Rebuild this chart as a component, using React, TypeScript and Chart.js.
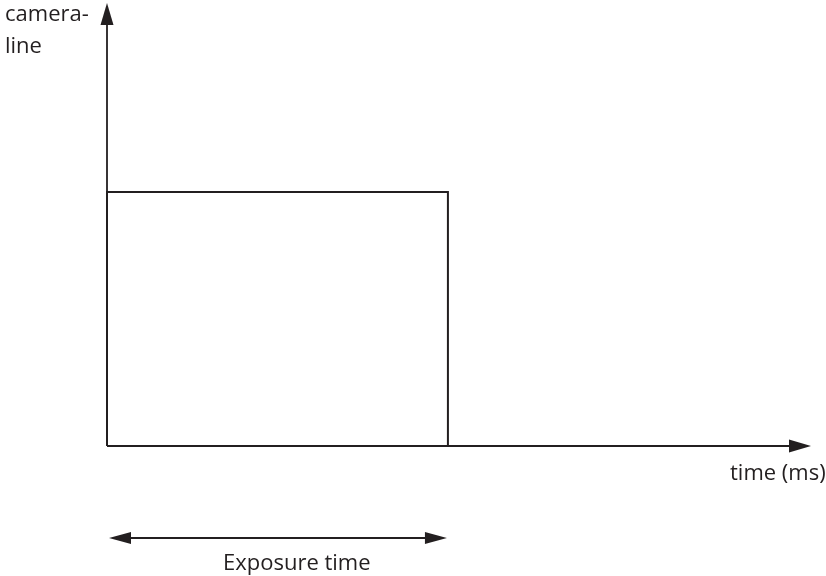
import React, { useEffect, useRef } from "react";
import { Chart, registerables } from "chart.js";

Chart.register(...registerables);

// Signal data (time in ms, camera-line level)
const pulseTime = [0, 0, 10, 10, 0];
const pulseLevel = [0, 1, 1, 0, 0];
const exposureStart = 0;
const exposureEnd = 10;
const timeMax = 20.65;
const levelMax = 1.744;

const yAxisLabel = ["camera-", "line"];
const xAxisLabel = "time (ms)";
const exposureLabel = "Exposure time";

const INK = "#231f20";
const FONT = '22px "Open Sans"';

function arrowHead(ctx: CanvasRenderingContext2D, tipX: number, tipY: number, dir: "up" | "right" | "left", len = 22, half = 6.5) {
  ctx.beginPath();
  if (dir === "up") {
    ctx.moveTo(tipX, tipY);
    ctx.lineTo(tipX - half, tipY + len);
    ctx.lineTo(tipX + half, tipY + len);
  } else if (dir === "right") {
    ctx.moveTo(tipX, tipY);
    ctx.lineTo(tipX - len, tipY - half);
    ctx.lineTo(tipX - len, tipY + half);
  } else {
    ctx.moveTo(tipX, tipY);
    ctx.lineTo(tipX + len, tipY - half);
    ctx.lineTo(tipX + len, tipY + half);
  }
  ctx.closePath();
  ctx.fill();
}

const diagramPlugin = {
  id: "diagram",
  beforeDatasetsDraw(chart: any) {
    const { ctx, chartArea, scales } = chart;
    const x = scales.x;
    const y = scales.y;
    const x0 = x.getPixelForValue(0);
    const y0 = y.getPixelForValue(0);
    ctx.save();
    ctx.strokeStyle = INK;
    ctx.fillStyle = INK;
    ctx.lineWidth = 1.8;
    // y axis
    ctx.beginPath();
    ctx.moveTo(x0, y0);
    ctx.lineTo(x0, chartArea.top + 20);
    ctx.stroke();
    arrowHead(ctx, x0, chartArea.top, "up");
    // x axis
    ctx.beginPath();
    ctx.moveTo(x0, y0);
    ctx.lineTo(chartArea.right - 20, y0);
    ctx.stroke();
    arrowHead(ctx, chartArea.right, y0, "right");
    ctx.restore();
  },
  afterDraw(chart: any) {
    const { ctx, scales } = chart;
    const x = scales.x;
    const y0 = scales.y.getPixelForValue(0);
    ctx.save();
    ctx.fillStyle = INK;
    ctx.strokeStyle = INK;
    ctx.font = FONT;
    ctx.textBaseline = "alphabetic";
    ctx.textAlign = "left";
    ctx.fillText(yAxisLabel[0], 5, 21);
    ctx.fillText(yAxisLabel[1], 5, 53);
    ctx.fillText(xAxisLabel, 730, y0 + 34);
    // exposure double arrow
    const ay = y0 + 92;
    const ax1 = x.getPixelForValue(exposureStart) + 2;
    const ax2 = x.getPixelForValue(exposureEnd) - 1;
    ctx.lineWidth = 1.8;
    ctx.beginPath();
    ctx.moveTo(ax1 + 18, ay);
    ctx.lineTo(ax2 - 18, ay);
    ctx.stroke();
    arrowHead(ctx, ax1, ay, "left", 22, 6);
    arrowHead(ctx, ax2, ay, "right", 22, 6);
    ctx.fillText(exposureLabel, 223, ay + 32);
    ctx.restore();
  },
};

export default function App() {
  const ref = useRef<HTMLCanvasElement>(null);
  useEffect(() => {
    if (!ref.current) return;
    const chart = new Chart(ref.current, {
      type: "line",
      data: {
        datasets: [
          {
            data: pulseTime.map((t, i) => ({ x: t, y: pulseLevel[i] })),
            borderColor: INK,
            borderWidth: 2,
            pointRadius: 0,
            fill: false,
            tension: 0,
            clip: false as any,
          },
        ],
      },
      options: {
        responsive: false,
        animation: false,
        layout: { padding: { left: 107, right: 15, top: 3, bottom: 130 } },
        plugins: { legend: { display: false }, tooltip: { enabled: false } },
        scales: {
          x: { type: "linear", min: 0, max: timeMax, display: false },
          y: { type: "linear", min: 0, max: levelMax, display: false },
        },
      },
      plugins: [diagramPlugin],
    });
    return () => chart.destroy();
  }, []);
  return (
    <div style={{ position: "fixed", left: 0, top: 0, width: 826, height: 576, background: "#fff" }}>
      <canvas ref={ref} width={826} height={576} style={{ width: 826, height: 576 }} />
    </div>
  );
}
